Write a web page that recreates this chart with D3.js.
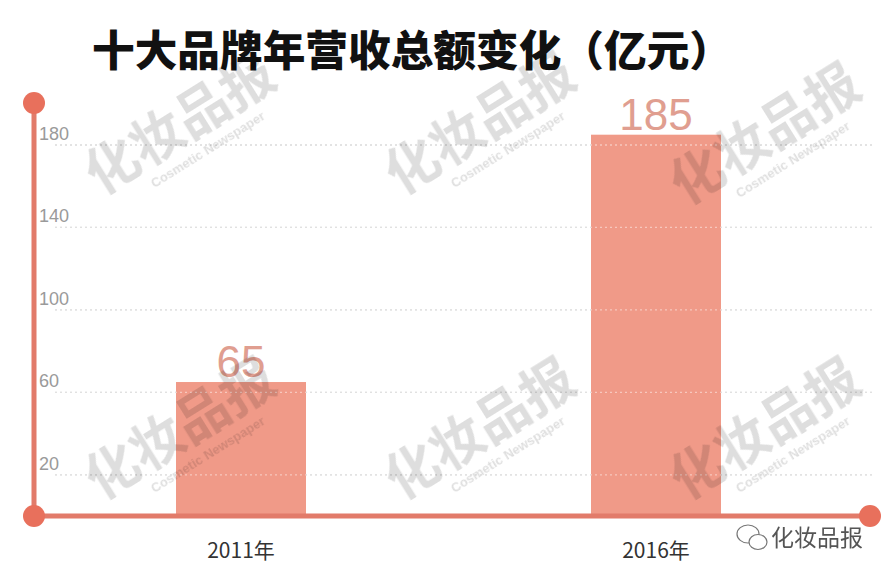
<!DOCTYPE html>
<html><head><meta charset="utf-8">
<script src="https://cdn.jsdelivr.net/npm/d3@7/dist/d3.min.js"></script>
<style>body{margin:0;background:#fff}svg{display:block}</style>
</head><body>
<svg id="c" width="893" height="571"></svg>
<script>
const categories = ["2011年", "2016年"];
const values = [65, 185];
const tickValues = [20, 60, 100, 140, 180];
const title = "十大品牌年营收总额变化（亿元）";

const svg = d3.select("#c");
const W = 893, H = 571;
svg.append("rect").attr("width", W).attr("height", H).attr("fill", "#fff");

const x = d3.scalePoint().domain(categories).range([241, 656]);
const barW = 130;
const y = d3.scaleLinear().domain([0, 180]).range([516, 145]);

// gridlines
svg.append("g").selectAll("line").data(tickValues).join("line")
  .attr("x1", 55).attr("x2", 872)
  .attr("y1", d => y(d)).attr("y2", d => y(d))
  .attr("stroke", "#c8c8c8").attr("stroke-width", 1.3)
  .attr("stroke-dasharray", "2,3");

// tick labels
svg.append("g").selectAll("text").data(tickValues).join("text")
  .attr("x", 39).attr("y", d => y(d) - 5)
  .attr("font-family", "Liberation Sans, Arial, sans-serif")
  .attr("font-size", 18).attr("fill", "#9a9a9a")
  .text(d => d);

// bars
svg.append("g").selectAll("rect").data(values).join("rect")
  .attr("x", (d, i) => x(categories[i]) - barW / 2)
  .attr("width", barW)
  .attr("y", d => y(d))
  .attr("height", d => y(0) - y(d))
  .attr("fill", "#f09a88");

// gridlines over bars (faint, as in reference)
svg.append("g").selectAll("line").data(tickValues).join("line")
  .attr("x1", 55).attr("x2", 872)
  .attr("y1", d => y(d)).attr("y2", d => y(d))
  .attr("stroke", "#ffffff").attr("stroke-opacity", 0.45).attr("stroke-width", 1.3)
  .attr("stroke-dasharray", "2,3");

// value labels
svg.append("g").selectAll("text").data(values).join("text")
  .attr("x", (d, i) => x(categories[i]))
  .attr("y", d => y(d) - 5)
  .attr("text-anchor", "middle")
  .attr("font-family", "Liberation Sans, Arial, sans-serif")
  .attr("font-size", 44).attr("fill", "#e09e90")
  .text(d => d);

// axes
const axisColor = "#e27b6a";
svg.append("line").attr("x1", 34).attr("x2", 34).attr("y1", 103).attr("y2", y(0))
  .attr("stroke", axisColor).attr("stroke-width", 5);
svg.append("line").attr("x1", 34).attr("x2", 870).attr("y1", y(0)).attr("y2", y(0))
  .attr("stroke", axisColor).attr("stroke-width", 5);
[[34, 103], [34, y(0)], [870, y(0)]].forEach(p => {
  svg.append("circle").attr("cx", p[0]).attr("cy", p[1]).attr("r", 11).attr("fill", "#e8705c");
});

// category labels
svg.append("g").selectAll("text").data(categories).join("text")
  .attr("x", d => x(d)).attr("y", 558)
  .attr("text-anchor", "middle")
  .attr("font-family", "Noto Sans CJK SC, sans-serif")
  .attr("font-size", 21).attr("fill", "#333")
  .text(d => d);

// title
svg.append("text").attr("x", 92).attr("y", 66)
  .attr("font-family", "Noto Sans CJK SC, sans-serif")
  .attr("font-weight", 900).attr("font-size", 42).attr("fill", "#111")
  .attr("textLength", 640).attr("lengthAdjust", "spacingAndGlyphs")
  .text(title);

// watermarks
const wm = [[190, 140], [490, 140], [775, 150], [190, 445], [490, 445], [775, 445]];
const wg = svg.append("g").attr("opacity", 0.13);
wm.forEach(p => {
  const g = wg.append("g").attr("transform", `translate(${p[0]},${p[1]}) rotate(-32)`);
  g.append("text").attr("text-anchor", "middle").attr("y", 0)
    .attr("font-family", "Noto Sans CJK SC, sans-serif").attr("font-weight", 700)
    .attr("font-size", 53).attr("fill", "#000").text("化妆品报");
  g.append("text").attr("text-anchor", "middle").attr("y", 22).attr("x", 10)
    .attr("font-family", "Liberation Sans, Arial, sans-serif").attr("font-weight", 700)
    .attr("font-size", 13).attr("fill", "#000").text("Cosmetic Newspaper");
});

// logo bottom right
const lg = svg.append("g").attr("transform", "translate(748,537)");
lg.append("ellipse").attr("cx", 0).attr("cy", -3).attr("rx", 11).attr("ry", 9)
  .attr("fill", "none").attr("stroke", "#777").attr("stroke-width", 1.2);
lg.append("ellipse").attr("cx", 10).attr("cy", 5).attr("rx", 9).attr("ry", 7.5)
  .attr("fill", "#fff").attr("stroke", "#777").attr("stroke-width", 1.2);
svg.append("text").attr("x", 771).attr("y", 546)
  .attr("font-family", "Noto Sans CJK SC, sans-serif")
  .attr("font-size", 23).attr("fill", "#555").text("化妆品报");
</script>
</body></html>
